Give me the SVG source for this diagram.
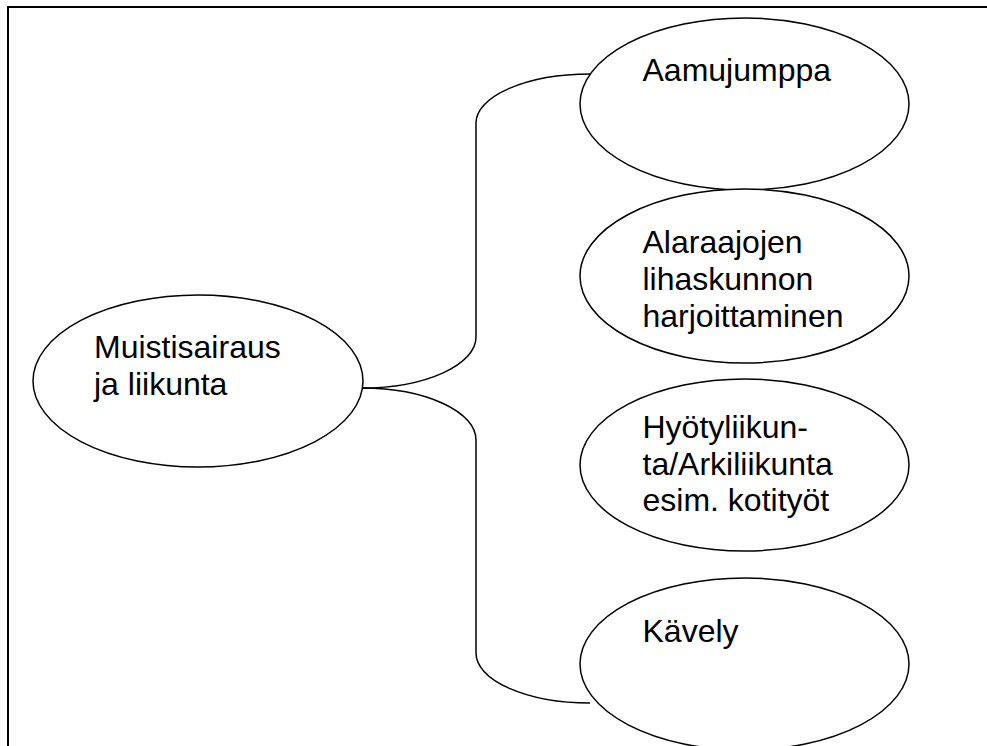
<svg xmlns="http://www.w3.org/2000/svg" width="987" height="746" viewBox="0 0 987 746">
<style>
.node ellipse{fill:#fff;stroke:#000;stroke-width:1.5}
.node text{font-family:"Liberation Sans",Arial,sans-serif;font-size:32px;fill:#000}
.conn path{fill:none;stroke:#000;stroke-width:1.5}
.frame{fill:none;stroke:#000;stroke-width:2}
</style>
<rect width="987" height="746" fill="#fff"/>
<path class="frame" d="M8,746 L8,7 L987,7"/>
<g id="connectors" class="conn">
<path d="M362,388 A114,51 0 0 0 476,337 L476,123 A114,49 0 0 1 590,74"/>
<path d="M362,388 A114,52 0 0 1 476,440 L476,653 A114,50 0 0 0 590,703"/>
</g>
<g id="n-muistisairaus" class="node">
<ellipse cx="198" cy="381" rx="165" ry="86"/>
<text x="94" y="358">Muistisairaus</text>
<text x="94" y="395">ja liikunta</text>
</g>
<g id="n-aamujumppa" class="node">
<ellipse cx="744.5" cy="104" rx="164.5" ry="86"/>
<text x="642.5" y="81">Aamujumppa</text>
</g>
<g id="n-alaraajojen" class="node">
<ellipse cx="744.5" cy="276" rx="164.5" ry="87"/>
<text x="642.5" y="253">Alaraajojen</text>
<text x="642.5" y="290">lihaskunnon</text>
<text x="642.5" y="327">harjoittaminen</text>
</g>
<g id="n-hyotyliikunta" class="node">
<ellipse cx="744.5" cy="465" rx="164.5" ry="86"/>
<text x="642.5" y="438">Hyötyliikun-</text>
<text x="642.5" y="475">ta/Arkiliikunta</text>
<text x="642.5" y="511">esim. kotityöt</text>
</g>
<g id="n-kavely" class="node">
<ellipse cx="744.5" cy="664" rx="164.5" ry="86"/>
<text x="642.5" y="642">Kävely</text>
</g>
</svg>
